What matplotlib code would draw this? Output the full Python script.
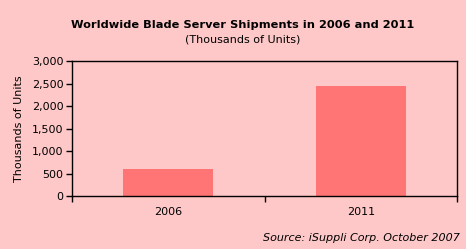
import matplotlib.pyplot as plt

years = ["2006", "2011"]
shipments = [600, 2450]
y_ticks = [0, 500, 1000, 1500, 2000, 2500, 3000]

BG = "#ffc8c8"
BAR = "#ff7474"

fig = plt.figure(figsize=(4.66, 2.49), dpi=100, facecolor=BG)
W, H = 466, 249
ax = fig.add_axes([72 / W, 1 - 196 / H, 385 / W, 135 / H], facecolor=BG)

pos = list(range(len(years)))
ax.bar(pos, shipments, width=0.47, color=BAR, zorder=2)

ax.set_xlim(-0.5, len(years) - 0.5)
ax.set_ylim(0, 3000)
ax.set_yticks(y_ticks)
ax.set_yticklabels([f"{v:,}" for v in y_ticks])

# category labels centred, tick marks between categories
ax.set_xticks(pos)
ax.set_xticklabels(years)
ax.tick_params(axis="x", which="major", length=0, pad=8, labelsize=8)
ax.set_xticks([-0.5, 0.5, 1.5], minor=True)
ax.tick_params(axis="x", which="minor", length=4, width=1, direction="out")
ax.tick_params(axis="y", length=4, width=1, direction="out", labelsize=8, pad=2)

for s in ax.spines.values():
    s.set_linewidth(1.0)
    s.set_color("black")

ax.set_ylabel("Thousands of Units", fontsize=8, labelpad=6)

fig.text(243 / W, 1 - 25 / H, "Worldwide Blade Server Shipments in 2006 and 2011",
         ha="center", va="center", fontsize=8.2, fontweight="bold")
fig.text(243 / W, 1 - 39 / H, "(Thousands of Units)",
         ha="center", va="center", fontsize=8)
fig.text(460 / W, 1 - 238 / H, "Source: iSuppli Corp. October 2007",
         ha="right", va="center", fontsize=8, style="italic")

fig.savefig("out.png", dpi=100, facecolor=BG)
